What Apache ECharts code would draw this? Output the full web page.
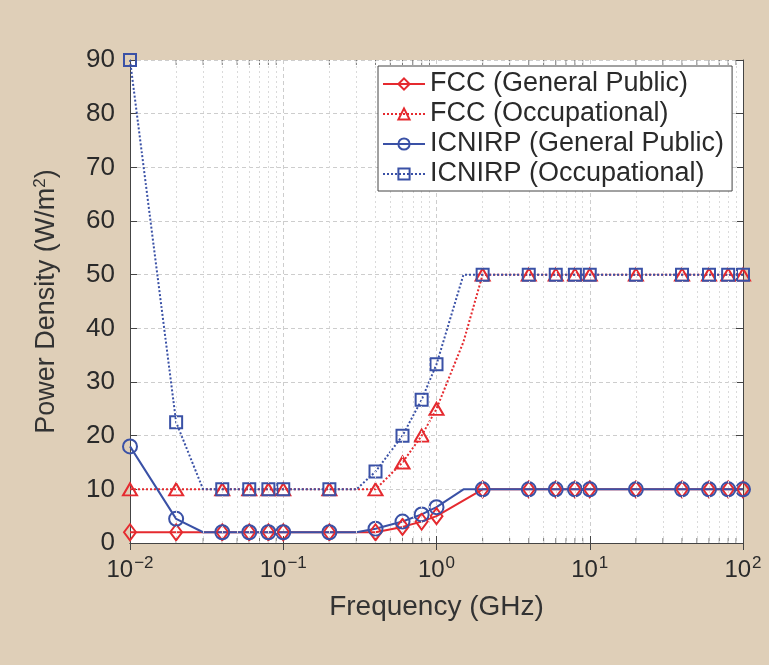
<!DOCTYPE html>
<html>
<head>
<meta charset="utf-8">
<script src="https://cdn.jsdelivr.net/npm/echarts@6/dist/echarts.min.js"></script>
<style>
html,body{margin:0;padding:0;background:#dfcfb8;}
#c{width:769px;height:665px;}
</style>
</head>
<body>
<div id="c"></div>
<script>
// ---- data ----
var seriesNames = ['FCC (General Public)', 'FCC (Occupational)', 'ICNIRP (General Public)', 'ICNIRP (Occupational)'];
var markedFreqs = [0.01,0.02,0.04,0.06,0.08,0.1,0.2,0.4,0.6,0.8,1,2,4,6,8,10,20,40,60,80,100];

var fccGpX = [0.01,0.02,0.04,0.06,0.08,0.1,0.2,0.4,0.6,0.8,1,2,4,6,8,10,20,40,60,80,100];
var fccGpY = [2,2,2,2,2,2,2,2,3,4,5,10,10,10,10,10,10,10,10,10,10];

var fccOccX = [0.01,0.02,0.04,0.06,0.08,0.1,0.2,0.4,0.6,0.8,1,1.5,2,4,6,8,10,20,40,60,80,100];
var fccOccY = [10,10,10,10,10,10,10,10,15,20,25,37.5,50,50,50,50,50,50,50,50,50,50];

var icnGpX = [0.01,0.02,0.03,0.04,0.06,0.08,0.1,0.2,0.3,0.4,0.6,0.8,1,1.5,2,4,6,8,10,20,40,60,80,100];
var icnGpY = [18,4.5,2,2,2,2,2,2,2,2.67,4,5.33,6.67,10,10,10,10,10,10,10,10,10,10,10];

var icnOccX = [0.01,0.02,0.03,0.04,0.06,0.08,0.1,0.2,0.3,0.4,0.6,0.8,1,1.5,2,4,6,8,10,20,40,60,80,100];
var icnOccY = [90,22.5,10,10,10,10,10,10,10,13.3,20,26.7,33.3,50,50,50,50,50,50,50,50,50,50,50];

var minorFreqs = [0.02,0.03,0.04,0.05,0.06,0.07,0.08,0.09,0.2,0.3,0.4,0.5,0.6,0.7,0.8,0.9,2,3,4,5,6,7,8,9,20,30,40,50,60,70,80,90];
var yMin = 0, yMax = 90, yStep = 10;
var xMin = 0.01, xMax = 100;

// ---- chart ----
var RED = '#e52a2f', BLUE = '#3a51a6';
var FONT = '"Liberation Sans", Arial, Helvetica, sans-serif';
var TXT = '#2a2a2a';

function pts(xs, ys) {
  return xs.map(function (x, i) {
    var item = { value: [x, ys[i]] };
    if (markedFreqs.indexOf(x) < 0) item.symbol = 'none';
    return item;
  });
}
function mk(name, xs, ys, color, dashed, symbol, size) {
  return {
    name: name, type: 'line', data: pts(xs, ys),
    symbol: symbol, symbolSize: size,
    showAllSymbol: true,
    lineStyle: { color: color, width: 2, type: dashed ? [2, 2] : 'solid' },
    itemStyle: { color: 'rgba(255,255,255,0)', borderColor: color, borderWidth: 2 },
    emphasis: { disabled: true },
    animation: false,
    z: 3
  };
}
function minorTicks(yv, off) {
  return {
    type: 'scatter', silent: true, z: 2, animation: false,
    symbol: 'rect', symbolSize: [1, 5], symbolOffset: [0, off],
    itemStyle: { color: '#555' },
    data: minorFreqs.map(function (f) { return [f, yv]; })
  };
}

var chart = echarts.init(document.getElementById('c'));
var xRich = {
  b: { fontSize: 24, fontFamily: FONT, color: TXT },
  sup: { fontSize: 17, fontFamily: FONT, color: TXT, padding: [0, 0, 13, 1] }
};

var option = {
  backgroundColor: '#dfcfb8',
  animation: false,
  grid: { left: 130, right: 26, top: 60, bottom: 122, backgroundColor: '#fff', show: true, borderWidth: 0 },
  legend: {
    zlevel: 1,
    orient: 'vertical', left: 378, top: 66,
    backgroundColor: '#fff', borderColor: '#444', borderWidth: 1,
    padding: [4, 8, 3, 4], itemGap: 2, itemWidth: 42, itemHeight: 14,
    textStyle: { fontSize: 27, lineHeight: 28, fontFamily: FONT, color: TXT },
    data: seriesNames
  },
  xAxis: [{
    type: 'log', logBase: 10, min: xMin, max: xMax,
    name: 'Frequency (GHz)', nameLocation: 'middle', nameGap: 50,
    nameTextStyle: { fontSize: 28, fontFamily: FONT, color: '#333' },
    axisLine: { show: true, lineStyle: { color: '#444', width: 1 } },
    axisTick: { show: true, inside: true, length: 7, lineStyle: { color: '#444' } },
    axisLabel: {
      margin: 12,
      formatter: function (v) { return '{b|10}{sup|' + String(Math.round(Math.log10(v))).replace('-', '\u2212') + '}'; },
      rich: xRich
    },
    splitLine: { show: true, lineStyle: { color: '#cdcdcd', type: [4, 3], width: 1 } }
  }, {
    type: 'log', logBase: 10, min: xMin, max: xMax, position: 'top',
    axisLine: { show: true, lineStyle: { color: '#444', width: 1 } },
    axisTick: { show: true, inside: true, length: 7, lineStyle: { color: '#444' } },
    axisLabel: { show: false }, splitLine: { show: false }
  }],
  yAxis: [{
    type: 'value', min: yMin, max: yMax, interval: yStep,
    name: 'Power Density (W/m{sup|2})', nameLocation: 'middle', nameGap: 68, nameRotate: 90,
    nameTextStyle: { fontSize: 27, fontFamily: FONT, color: '#333',
      rich: { sup: { fontSize: 17, fontFamily: FONT, color: '#333', padding: [0, 0, 13, 0] } } },
    axisLine: { show: true, lineStyle: { color: '#444', width: 1 } },
    axisTick: { show: true, inside: true, length: 7, lineStyle: { color: '#444' } },
    axisLabel: { fontSize: 26, fontFamily: FONT, color: TXT, margin: 15 },
    splitLine: { show: true, lineStyle: { color: '#cdcdcd', type: [4, 3], width: 1 } }
  }, {
    type: 'value', min: yMin, max: yMax, interval: yStep, position: 'right',
    axisLine: { show: true, lineStyle: { color: '#444', width: 1 } },
    axisTick: { show: true, inside: true, length: 7, lineStyle: { color: '#444' } },
    axisLabel: { show: false }, splitLine: { show: false }
  }],
  series: [
    {
      type: 'line', data: [], silent: true, z: 1,
      markLine: {
        silent: true, symbol: 'none', animation: false,
        label: { show: false },
        lineStyle: { color: '#dadada', type: [2, 3], width: 1 },
        data: minorFreqs.map(function (f) { return { xAxis: f }; })
      }
    },
    minorTicks(yMin, -2.5),
    minorTicks(yMax, 2.5),
    mk(seriesNames[0], fccGpX, fccGpY, RED, false, 'diamond', [12, 16]),
    mk(seriesNames[1], fccOccX, fccOccY, RED, true, 'triangle', [14, 12]),
    mk(seriesNames[2], icnGpX, icnGpY, BLUE, false, 'circle', 14),
    mk(seriesNames[3], icnOccX, icnOccY, BLUE, true, 'rect', 12)
  ]
};
chart.setOption(option);
</script>
</body>
</html>
